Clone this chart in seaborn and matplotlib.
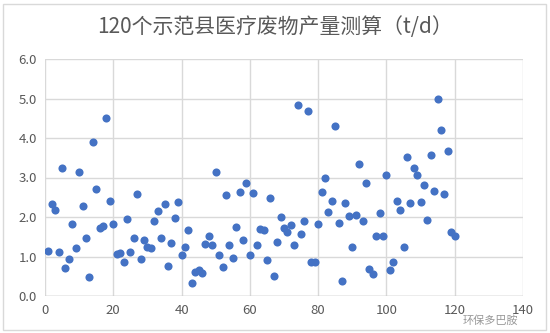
import matplotlib
matplotlib.use("Agg")
import matplotlib.pyplot as plt
import seaborn as sns
import pandas as pd
from matplotlib.patches import Rectangle

county_index = list(range(1, 121))
waste_tpd = [
    1.13, 2.32, 2.17, 1.11, 3.25, 0.70, 0.93, 1.83, 1.22, 3.15,
    2.27, 1.48, 0.47, 3.91, 2.70, 1.73, 1.77, 4.51, 2.40, 1.83,
    1.06, 1.08, 0.85, 1.94, 1.11, 1.48, 2.58, 0.93, 1.42, 1.25,
    1.22, 1.91, 2.15, 1.48, 2.34, 0.76, 1.34, 1.97, 2.38, 1.05,
    1.24, 1.68, 0.32, 0.61, 0.65, 0.58, 1.31, 1.51, 1.28, 3.13,
    1.05, 0.73, 2.55, 1.28, 0.96, 1.74, 2.64, 1.42, 2.87, 1.05,
    2.60, 1.28, 1.69, 1.66, 0.90, 2.49, 0.50, 1.37, 2.00, 1.73,
    1.61, 1.80, 1.28, 4.84, 1.57, 1.89, 4.69, 0.85, 0.87, 1.83,
    2.64, 2.98, 2.12, 2.40, 4.31, 1.86, 0.39, 2.35, 2.02, 1.23,
    2.05, 3.34, 1.89, 2.87, 0.68, 0.56, 1.51, 2.09, 1.51, 3.07,
    0.67, 0.85, 2.41, 2.17, 1.25, 3.51, 2.35, 3.25, 3.07, 2.38,
    2.81, 1.92, 3.56, 2.67, 5.00, 4.20, 2.59, 3.68, 1.62, 1.51,
]
x_ticks = [0, 20, 40, 60, 80, 100, 120, 140]
y_ticks = [0.0, 1.0, 2.0, 3.0, 4.0, 5.0, 6.0]
title = "120个示范县医疗废物产量测算（t/d）"
watermark = "环保多巴胺"

df = pd.DataFrame({"x": county_index, "y": waste_tpd})

sns.set_theme(style="white")
plt.rcParams["font.family"] = ["Noto Sans CJK SC", "DejaVu Sans"]

W, H = 550, 333
fig = plt.figure(figsize=(W / 100, H / 100), dpi=100)
ax = fig.add_axes([45 / W, 1 - 296 / H, (523 - 45) / W, (296 - 59) / H])

sns.scatterplot(data=df, x="x", y="y", ax=ax, color="#4472C4", s=34,
                edgecolor="#4472C4", linewidth=0, zorder=3, legend=False)

ax.set_xlim(0, 140)
ax.set_ylim(0, 6)
ax.set_xticks(x_ticks)
ax.set_yticks(y_ticks)
ax.set_yticklabels([f"{v:.1f}" for v in y_ticks])
ax.grid(True, color="#D9D9D9", linewidth=1)
for s in ax.spines.values():
    s.set_visible(False)
ax.axhline(0, color="#BFBFBF", linewidth=1, zorder=2)
ax.tick_params(axis="both", length=0, labelsize=9.5, colors="#595959", pad=6)
ax.set_xlabel("")
ax.set_ylabel("")

fig.text(0.5, 1 - 27 / H, title, ha="center", va="center", fontsize=15,
         color="#595959")
fig.text(490 / W, 1 - 321 / H, watermark, ha="center", va="center",
         fontsize=8, color="#7F7F7F", alpha=0.8)

fig.patches.append(Rectangle((3 / W, 3 / H), (546 - 3) / W, (329 - 3) / H,
                             transform=fig.transFigure, fill=False,
                             edgecolor="#D9D9D9", linewidth=1))

fig.savefig("out.png", dpi=100)
